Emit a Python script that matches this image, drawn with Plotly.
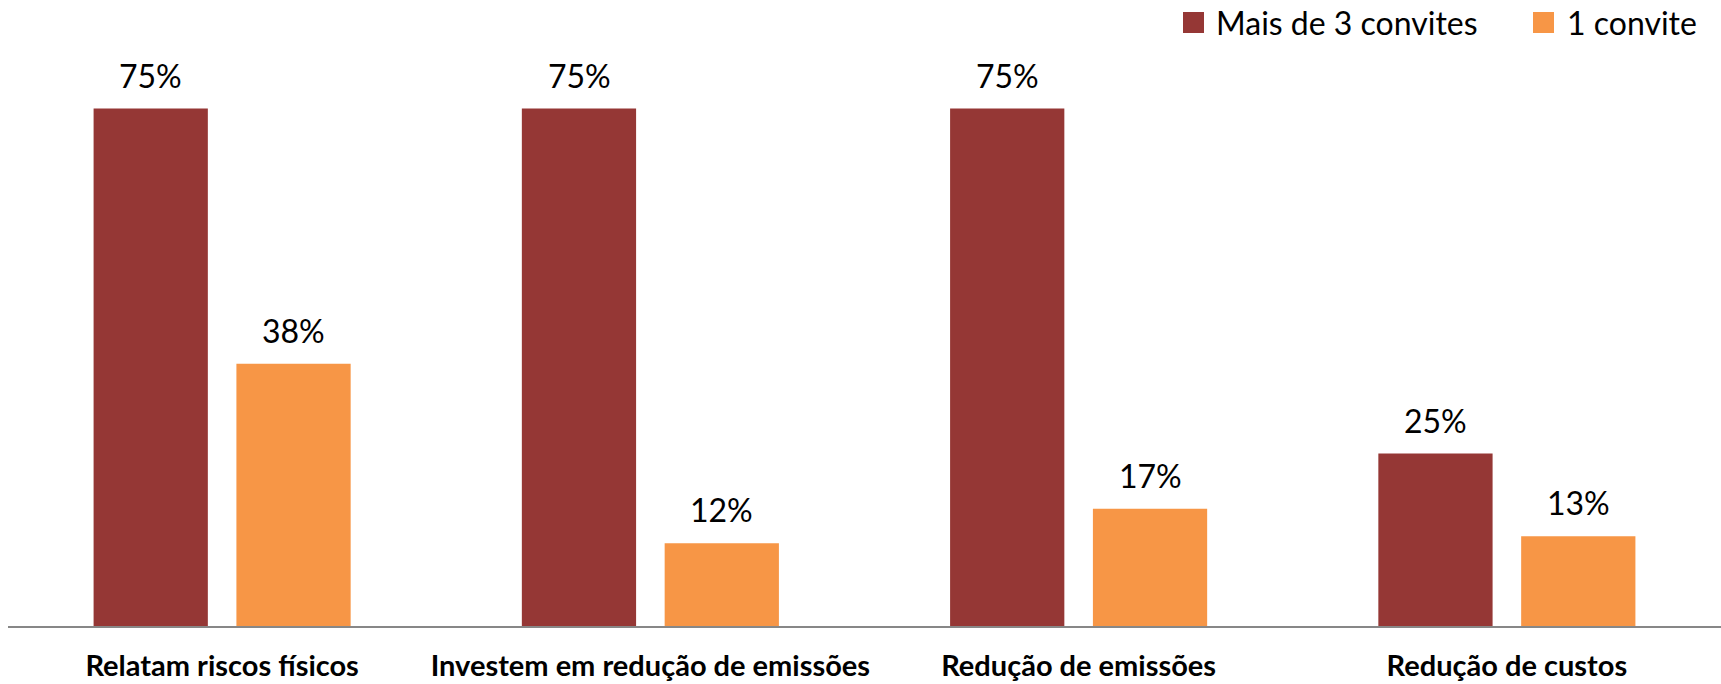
import plotly.graph_objects as go

# Chart data
categories = [
    "Relatam riscos físicos",
    "Investem em redução de emissões",
    "Redução de emissões",
    "Redução de custos",
]
series_names = ["Mais de 3 convites", "1 convite"]
mais_de_3 = [75, 75, 75, 25]
um_convite = [38, 12, 17, 13]

colors = ["#953735", "#F79646"]
series_values = [mais_de_3, um_convite]

W, H = 1721, 684
M_L, M_R, M_T, M_B = 8, 0, 74, 58
FONT = "Lato"


def px_to_paper(px, py):
    return (px - M_L) / (W - M_L - M_R), (H - M_B - py) / (H - M_T - M_B)


fig = go.Figure()
for name, vals, col in zip(series_names, series_values, colors):
    fig.add_trace(go.Bar(
        name=name,
        x=categories,
        y=vals,
        marker=dict(color=col, line=dict(width=0)),
        showlegend=False,
    ))

# Value labels above each bar
offset = 1 / 6
annotations = []
for k, vals in enumerate(series_values):
    shift = -offset if k == 0 else offset
    for i, v in enumerate(vals):
        annotations.append(dict(
            x=i + shift, y=v, xref="x", yref="y",
            text=f"{v}%", showarrow=False,
            yanchor="bottom", yshift=12,
            font=dict(family=FONT, size=32, color="#000000"),
        ))

# Legend drawn as squares with text
legend_items = [(1183, 1214), (1533, 1565)]
shapes = []
for (sq_x, tx_x), name, col in zip(legend_items, series_names, colors):
    x0, y0 = px_to_paper(sq_x, 33)
    x1, y1 = px_to_paper(sq_x + 21, 12)
    shapes.append(dict(type="rect", xref="paper", yref="paper",
                       x0=x0, x1=x1, y0=y0, y1=y1,
                       fillcolor=col, line=dict(width=0)))
    tx, ty = px_to_paper(tx_x, 22)
    annotations.append(dict(
        x=tx, y=ty, xref="paper", yref="paper",
        text=name, showarrow=False, xanchor="left", yanchor="middle",
        font=dict(family=FONT, size=32, color="#000000"),
    ))

fig.update_layout(
    width=W, height=H,
    margin=dict(l=M_L, r=M_R, t=M_T, b=M_B),
    paper_bgcolor="white", plot_bgcolor="white",
    barmode="group", bargap=0.333, bargroupgap=0.2,
    annotations=annotations, shapes=shapes,
    showlegend=False,
    xaxis=dict(
        showline=True, linecolor="#878787", linewidth=2,
        ticks="", showgrid=False, zeroline=False, automargin=False,
        tickfont=dict(family=FONT, size=29, color="#000000", weight="bold"),
        ticklabelstandoff=13,
    ),
    yaxis=dict(
        range=[0, 80], visible=False, showgrid=False, zeroline=False,
        automargin=False,
    ),
)

fig.write_html("out.html")
